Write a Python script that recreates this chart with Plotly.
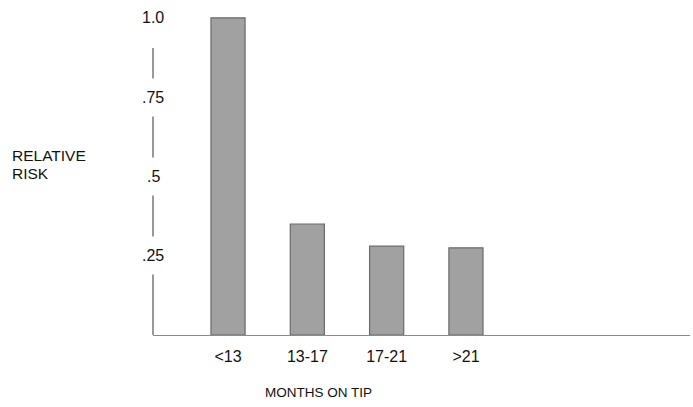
import plotly.graph_objects as go

categories = ["<13", "13-17", "17-21", ">21"]
relative_risk = [1.0, 0.35, 0.28, 0.275]
ytick_vals = [0.25, 0.5, 0.75, 1.0]
ytick_text = [".25", ".5", ".75", "1.0"]

FONT = "Liberation Sans, Arial, Helvetica, sans-serif"

fig = go.Figure()
fig.add_trace(go.Bar(
    x=list(range(len(categories))),
    y=relative_risk,
    width=0.43,
    marker=dict(color="#a1a1a1", line=dict(color="#6a6a6a", width=1.2)),
    hoverinfo="skip",
))

fig.update_layout(
    width=693, height=407,
    margin=dict(l=153, r=3, t=2, b=72),
    paper_bgcolor="white", plot_bgcolor="white",
    showlegend=False,
    font=dict(family=FONT, size=16, color="#111"),
    xaxis=dict(
        range=[-0.946, 5.825],
        tickvals=list(range(len(categories))),
        ticktext=categories,
        showgrid=False, zeroline=False,
        showline=True, linecolor="#8a8a8a", linewidth=1,
        ticks="outside", ticklen=7, tickcolor="rgba(0,0,0,0)",
        tickfont=dict(family=FONT, size=16, color="#111"),
    ),
    yaxis=dict(
        range=[0, 1.05],
        showgrid=False, zeroline=False, showline=False,
        showticklabels=False, ticks="",
    ),
)

# hand-drawn style y-axis line, broken by the tick labels
fig.add_shape(type="line", xref="paper", yref="y", x0=0, x1=0, y0=0, y1=0.905,
              line=dict(color="#555", width=1.2))
for v, t in zip(ytick_vals, ytick_text):
    fig.add_annotation(xref="paper", yref="y", x=0, y=v, text=t, showarrow=False,
                       xanchor="center", yanchor="middle", bgcolor="white",
                       borderpad=10, font=dict(family=FONT, size=16, color="#111"))

for txt, ypx in (("RELATIVE", 155), ("RISK", 173)):
    fig.add_annotation(xref="paper", yref="paper", x=-143/537, y=(335-ypx)/333,
                       text=txt, showarrow=False, align="left",
                       xanchor="left", yanchor="middle",
                       font=dict(family=FONT, size=15.5, color="#111"))
fig.add_annotation(xref="paper", yref="paper", x=(318-153)/537, y=-(392-335)/333,
                   text="MONTHS ON TIP", showarrow=False, xanchor="center",
                   yanchor="middle", font=dict(family=FONT, size=13.5, color="#111"))

fig.write_html("out.html", config={"displayModeBar": False},
               post_script="document.body.style.margin='0px';")
